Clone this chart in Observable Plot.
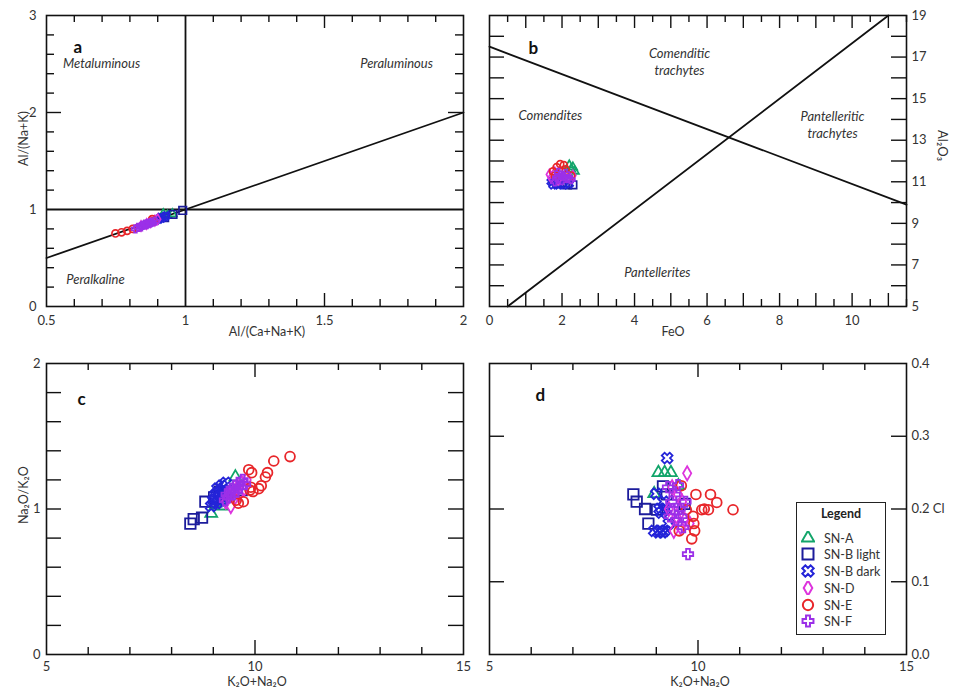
<!DOCTYPE html>
<html><head><meta charset="utf-8">
<script src="https://cdn.jsdelivr.net/npm/d3@7"></script>
<script src="https://cdn.jsdelivr.net/npm/@observablehq/plot@0.6"></script>
<style>
body{margin:0;background:#fff;font-family:Lato,"Open Sans",sans-serif;}
#wrap{position:relative;width:954px;height:693px;overflow:hidden;background:#fff;}
#legend{position:absolute;left:796px;top:502px;width:88px;height:131px;border:1.5px solid #222;background:#fff;font-family:Lato,"Open Sans",sans-serif;color:#333;}
#legend .t{position:absolute;left:0;width:88px;top:3px;text-align:center;font-weight:bold;font-size:12.5px;color:#222;}
#legend .row{position:absolute;left:4px;height:16px;display:flex;align-items:center;font-size:12.5px;}
#legend svg{margin-right:9px;}
</style></head><body><div id="wrap"></div>
<script>
// ---------- series ----------
const seriesNames = ["SN-A", "SN-B light", "SN-B dark", "SN-D", "SN-E", "SN-F"];
const seriesColors = ["#12a56a", "#1c1c9c", "#2424d8", "#dd33dd", "#e8262a", "#9b30e8"];

// ---------- panel a : Al/(Ca+Na+K) vs Al/(Na+K) ----------
const a_SNA  = [[0.92,0.955],[0.935,0.94],[0.953,0.955]];
const a_SNBl = [[0.925,0.915],[0.955,0.95],[0.99,0.99]];
const a_SNBd = [[0.895,0.89],[0.905,0.9],[0.915,0.91],[0.925,0.925],[0.93,0.935],[0.91,0.92]];
const a_SND  = [[0.84,0.83],[0.86,0.85],[0.875,0.87],[0.89,0.885],[0.9,0.9]];
const a_SNE  = [[0.748,0.753],[0.77,0.765],[0.79,0.78],[0.81,0.8],[0.83,0.815],[0.86,0.85],[0.885,0.88],[0.88,0.9]];
const a_SNF  = [[0.82,0.8],[0.83,0.815],[0.84,0.82],[0.85,0.84],[0.86,0.845],[0.87,0.86],[0.88,0.87],[0.89,0.88],[0.845,0.835],[0.865,0.855],[0.875,0.865],[0.855,0.85]];
const aBoundary = [[0.5,0.5],[2,2]];
const aRegions = [
  {label:"Metaluminous", x:0.698, y:2.505},
  {label:"Peraluminous", x:1.759, y:2.5},
  {label:"Peralkaline",  x:0.676, y:0.28}
];

// ---------- panel b : FeO vs Al2O3 ----------
const b_SNA  = [[2.2,11.8],[2.3,11.7],[2.35,11.5],[2.25,11.6],[2.15,11.4]];
const b_SNBl = [[1.85,10.9],[2.0,10.95],[2.3,10.85],[2.15,10.85]];
const b_SNBd = [[1.75,10.85],[1.9,10.85],[2.05,10.85],[2.2,10.9],[1.7,11.0]];
const b_SND  = [[1.65,11.35],[1.7,11.2],[1.8,11.45],[2.3,11.3],[1.9,11.1]];
const b_SNE  = [[1.75,11.5],[1.85,11.7],[1.95,11.85],[2.05,11.8],[2.1,11.6],[1.8,11.3],[2.0,11.5],[2.25,11.3]];
const b_SNF  = [[1.85,11.2],[1.95,11.3],[2.05,11.25],[2.15,11.15],[2.0,11.05],[1.9,11.45],[2.1,11.4],[2.25,11.1],[1.8,11.0]];
const bLine1 = [[0,17.5],[11.5,9.9]];
const bLine2 = [[0.5,5],[11.0,19]];
const bRegions = [
  {label:"Comenditic\ntrachytes", x:5.24, y:16.81},
  {label:"Comendites", x:1.68, y:14.24},
  {label:"Pantelleritic\ntrachytes", x:9.46, y:13.76},
  {label:"Pantellerites", x:4.63, y:6.69}
];

// ---------- panels c & d : K2O+Na2O vs Na2O/K2O and Cl ----------
const kna_SNA  = [8.95, 9.05, 9.2, 9.35, 9.53];
const nak_SNA  = [0.97, 1.04, 1.02, 1.08, 1.22];
const cl_SNA   = [0.221, 0.25, 0.25, 0.25, 0.232];

const kna_SNBl = [8.45, 8.53, 8.73, 8.81, 9.02, 9.16, 9.25, 9.68];
const nak_SNBl = [0.90, 0.93, 0.94, 1.05, 1.08, 1.12, 1.10, 1.13];
const cl_SNBl  = [0.22, 0.21, 0.20, 0.18, 0.199, 0.231, 0.22, 0.207];

const kna_SNBd = [8.95, 9.0, 9.05, 9.08, 9.1, 9.12, 9.15, 9.18, 9.2, 9.22, 9.26, 9.3];
const nak_SNBd = [1.02, 1.06, 1.1, 1.04, 1.14, 1.08, 1.12, 1.06, 1.16, 1.1, 1.13, 1.18];
const cl_SNBd  = [0.17, 0.221, 0.168, 0.2, 0.17, 0.195, 0.168, 0.21, 0.17, 0.2, 0.27, 0.18];

const kna_SND  = [9.3, 9.38, 9.42, 9.48, 9.52, 9.58, 9.62, 9.68, 9.74, 9.8];
const nak_SND  = [1.05, 1.1, 1.02, 1.12, 1.08, 1.15, 1.1, 1.18, 1.14, 1.2];
const cl_SND   = [0.2, 0.23, 0.17, 0.19, 0.22, 0.175, 0.21, 0.185, 0.249, 0.18];

const kna_SNE  = [9.55, 9.60, 9.72, 9.85, 9.88, 9.90, 9.92, 9.95, 10.09, 10.15, 10.25, 10.30, 10.45, 10.84];
const nak_SNE  = [1.06, 1.04, 1.05, 1.27, 1.13, 1.15, 1.25, 1.12, 1.14, 1.16, 1.22, 1.25, 1.33, 1.36];
const cl_SNE   = [0.17, 0.232, 0.199, 0.159, 0.19, 0.18, 0.17, 0.22, 0.199, 0.20, 0.199, 0.22, 0.209, 0.199];

const kna_SNF  = [9.28, 9.32, 9.36, 9.4, 9.44, 9.48, 9.52, 9.56, 9.6, 9.65, 9.7, 9.76];
const nak_SNF  = [1.06, 1.1, 1.08, 1.12, 1.14, 1.1, 1.16, 1.12, 1.18, 1.15, 1.2, 1.17];
const cl_SNF   = [0.23, 0.19, 0.21, 0.2, 0.22, 0.185, 0.233, 0.2, 0.19, 0.175, 0.21, 0.138];

// ---------- tick labels ----------
const aXLabels = [0.5, 1, 1.5, 2], aYLabels = [0, 1, 2, 3];
const bXLabels = [0, 2, 4, 6, 8, 10], bYLabels = [5, 7, 9, 11, 13, 15, 17, 19];
const cXLabels = [5, 10, 15], cYLabels = [0, 1, 2];
const dXLabels = [5, 10, 15], dYLabels = [0, 0.1, 0.2, 0.3, 0.4];

// ---------- symbols ----------
function armPoly(ctx, size, angle) {
  const r = Math.sqrt(size / Math.PI), w = r * 0.36;
  const pts = [[-w,-r],[w,-r],[w,-w],[r,-w],[r,w],[w,w],[w,r],[-w,r],[-w,w],[-r,w],[-r,-w],[-w,-w]];
  const c = Math.cos(angle), s = Math.sin(angle);
  pts.forEach(([x,y],i) => {
    const X = x*c - y*s, Y = x*s + y*c;
    i ? ctx.lineTo(X,Y) : ctx.moveTo(X,Y);
  });
  ctx.closePath();
}
const plusSymbol = {draw(ctx, size){ armPoly(ctx, size, 0); }};
const xSymbol = {draw(ctx, size){ armPoly(ctx, size, Math.PI/4); }};
const seriesSymbols = [d3.symbolTriangle, d3.symbolSquare, xSymbol, d3.symbolDiamond, d3.symbolCircle, plusSymbol];
const seriesR = [4.4, 5.9, 5.6, 4.3, 4.9, 5.2];

const FONT = "Lato, 'Open Sans', sans-serif";
const wrap = document.getElementById("wrap");

function dots(list, scale, xf, yf) {
  return list.map((rows, i) => Plot.dot(rows, {
    x: xf, y: yf, symbol: seriesSymbols[i], r: seriesR[i] * scale,
    stroke: seriesColors[i], fill: "none", strokeWidth: scale < 1 ? 1.7 : 1.8
  }));
}
function pairs(xs, ys) { return xs.map((x, i) => [x, ys[i]]); }

function inwardTicks(W, H, {xMinor = [], xMajor = [], yMinor = [], yMajor = [], xMin = 7, xMaj = 13, yMin = 8, yMaj = 15}) {
  const s = {stroke: "#111", strokeWidth: 1.4};
  return [
    Plot.ruleX(xMinor, {...s, insetTop: H - xMin}),
    Plot.ruleX(xMinor, {...s, insetBottom: H - xMin}),
    Plot.ruleX(xMajor, {...s, insetTop: H - xMaj}),
    Plot.ruleX(xMajor, {...s, insetBottom: H - xMaj}),
    Plot.ruleY(yMinor, {...s, insetRight: W - yMin}),
    Plot.ruleY(yMinor, {...s, insetLeft: W - yMin}),
    Plot.ruleY(yMajor, {...s, insetRight: W - yMaj}),
    Plot.ruleY(yMajor, {...s, insetLeft: W - yMaj})
  ];
}
function place(svg, left, top) {
  svg.style.position = "absolute";
  svg.style.left = left + "px";
  svg.style.top = top + "px";
  wrap.appendChild(svg);
}
const steps = (a, b, s) => d3.range(Math.round((b - a) / s) + 1).map(i => +(a + i * s).toFixed(3));
const FW = 417, FH = 291;
const txt = {fill: "#333", fontFamily: FONT};
const baseStyle = {fontFamily: FONT, fontSize: "13px", color: "#333", background: "transparent", overflow: "visible"};
const letter = {fontWeight: "bold", fontSize: 17, fill: "#111", fontFamily: FONT};

// ---------- Panel a ----------
place(Plot.plot({
  width: 477, height: 345, marginLeft: 46, marginRight: 14, marginTop: 15, marginBottom: 39,
  style: baseStyle,
  x: {domain: [0.5, 2]}, y: {domain: [0, 3]},
  marks: [
    ...inwardTicks(FW, FH, {
      xMinor: steps(0.6, 1.9, 0.1).filter(v => Math.abs(v - 1) > 1e-6 && Math.abs(v - 1.5) > 1e-6),
      xMajor: [1.5], yMinor: steps(0.2, 2.8, 0.2).filter(v => Math.abs(v - 1) > 1e-6 && Math.abs(v - 2) > 1e-6),
      yMajor: [2], xMin: 7, xMaj: 13, yMin: 8, yMaj: 15}),
    Plot.ruleX([1], {stroke: "#111", strokeWidth: 1.8}),
    Plot.ruleY([1], {stroke: "#111", strokeWidth: 1.8}),
    Plot.line(aBoundary, {x: d => d[0], y: d => d[1], stroke: "#111", strokeWidth: 1.8}),
    ...dots([a_SNA, a_SNBl, a_SNBd, a_SND, a_SNE, a_SNF], 0.72, d => d[0], d => d[1]),
    Plot.text(aRegions, {x: "x", y: "y", text: "label", fontStyle: "italic", fontSize: 13, ...txt}),
    Plot.text(["a"], {text: d => d, frameAnchor: "top-left", dx: 27, dy: 25, ...letter}),
    Plot.frame({stroke: "#111", strokeWidth: 1.6}),
    Plot.axisX(aXLabels, {anchor: "bottom", tickSize: 0, tickPadding: 9, label: null, tickFormat: d => String(d), ...txt}),
    Plot.axisY(aYLabels, {anchor: "left", tickSize: 0, tickPadding: 10, label: null, tickFormat: d => String(d), ...txt}),
    Plot.text(["Al/(Ca+Na+K)"], {text: d => d, frameAnchor: "bottom", dx: 12, dy: 29, fontSize: 12.5, ...txt}),
    Plot.text(["Al/(Na+K)"], {text: d => d, frameAnchor: "left", dx: -23, dy: 5, rotate: -90, fontSize: 12.5, ...txt})
  ]
}), 0, 0);

// ---------- Panel b ----------
place(Plot.plot({
  width: 477, height: 345, marginLeft: 12, marginRight: 48, marginTop: 15, marginBottom: 39,
  style: baseStyle,
  x: {domain: [0, 11.5]}, y: {domain: [5, 19]},
  marks: [
    ...inwardTicks(FW, FH, {
      xMinor: steps(0.5, 11, 1), xMajor: steps(1, 11, 1),
      yMinor: [], yMajor: steps(6, 18, 1), xMin: 7, xMaj: 13, yMaj: 15}),
    Plot.line(bLine1, {x: d => d[0], y: d => d[1], stroke: "#111", strokeWidth: 1.8}),
    Plot.line(bLine2, {x: d => d[0], y: d => d[1], stroke: "#111", strokeWidth: 1.8}),
    ...dots([b_SNA, b_SNBl, b_SNBd, b_SND, b_SNE, b_SNF], 0.72, d => d[0], d => d[1]),
    Plot.text(bRegions, {x: "x", y: "y", text: "label", fontStyle: "italic", fontSize: 13, lineHeight: 1.3, ...txt}),
    Plot.text(["b"], {text: d => d, frameAnchor: "top-left", dx: 39, dy: 26, ...letter}),
    Plot.frame({stroke: "#111", strokeWidth: 1.6}),
    Plot.axisX(bXLabels, {anchor: "bottom", tickSize: 0, tickPadding: 9, label: null, tickFormat: d => String(d), ...txt}),
    Plot.axisY(bYLabels, {anchor: "right", tickSize: 0, tickPadding: 5, label: null, tickFormat: d => String(d), ...txt}),
    Plot.text(["FeO"], {text: d => d, frameAnchor: "bottom", dx: -25, dy: 29, fontSize: 12.5, ...txt}),
    Plot.text(["Al₂O₃"], {text: d => d, frameAnchor: "right", dx: 36, dy: 0, rotate: 90, fontSize: 13, ...txt})
  ]
}), 477, 0);

// ---------- Panel c ----------
const dotsCD = (yArrs) => dots([
  pairs(kna_SNA, yArrs[0]), pairs(kna_SNBl, yArrs[1]), pairs(kna_SNBd, yArrs[2]),
  pairs(kna_SND, yArrs[3]), pairs(kna_SNE, yArrs[4]), pairs(kna_SNF, yArrs[5])
], 1, d => d[0], d => d[1]);

place(Plot.plot({
  width: 477, height: 348, marginLeft: 46, marginRight: 14, marginTop: 18, marginBottom: 39,
  style: baseStyle,
  x: {domain: [5, 15]}, y: {domain: [0, 2]},
  marks: [
    ...inwardTicks(FW, FH, {
      xMinor: [6, 7, 8, 9, 11, 12, 13, 14], xMajor: [10],
      yMinor: [], yMajor: steps(0.2, 1.8, 0.2), xMin: 7, xMaj: 14, yMaj: 15}),
    ...dotsCD([nak_SNA, nak_SNBl, nak_SNBd, nak_SND, nak_SNE, nak_SNF]),
    Plot.text(["c"], {text: d => d, frameAnchor: "top-left", dx: 31, dy: 29, ...letter}),
    Plot.frame({stroke: "#111", strokeWidth: 1.6}),
    Plot.axisX(cXLabels, {anchor: "bottom", tickSize: 0, tickPadding: 7, label: null, tickFormat: d => String(d), ...txt}),
    Plot.axisY(cYLabels, {anchor: "left", tickSize: 0, tickPadding: 6, label: null, tickFormat: d => String(d), ...txt}),
    Plot.text(["K₂O+Na₂O"], {text: d => d, frameAnchor: "bottom", dx: 2, dy: 31, fontSize: 12.5, ...txt}),
    Plot.text(["Na₂O/K₂O"], {text: d => d, frameAnchor: "left", dx: -23, dy: 15, rotate: -90, fontSize: 12.5, ...txt})
  ]
}), 0, 345);

// ---------- Panel d ----------
place(Plot.plot({
  width: 477, height: 348, marginLeft: 12, marginRight: 48, marginTop: 18, marginBottom: 39,
  style: baseStyle,
  x: {domain: [5, 15]}, y: {domain: [0, 0.4]},
  marks: [
    ...inwardTicks(FW, FH, {
      xMinor: [6, 7, 8, 9, 11, 12, 13, 14], xMajor: [10],
      yMinor: [], yMajor: [0.1, 0.2, 0.3], xMin: 7, xMaj: 14, yMaj: 15}),
    ...dotsCD([cl_SNA, cl_SNBl, cl_SNBd, cl_SND, cl_SNE, cl_SNF]),
    Plot.text(["d"], {text: d => d, frameAnchor: "top-left", dx: 46, dy: 25, ...letter}),
    Plot.frame({stroke: "#111", strokeWidth: 1.6}),
    Plot.axisX(dXLabels, {anchor: "bottom", tickSize: 0, tickPadding: 7, label: null, tickFormat: d => String(d), ...txt}),
    Plot.axisY(dYLabels, {anchor: "right", tickSize: 0, tickPadding: 5, label: null, tickFormat: d => d.toFixed(1), ...txt}),
    Plot.text(["K₂O+Na₂O"], {text: d => d, frameAnchor: "bottom", dx: 2, dy: 31, fontSize: 12.5, ...txt}),
    Plot.text(["Cl"], {text: d => d, frameAnchor: "right", dx: 38, dy: 0, fontSize: 13, ...txt})
  ]
}), 477, 345);

// ---------- Legend ----------
const legend = document.createElement("div");
legend.id = "legend";
legend.innerHTML = '<div class="t">Legend</div>';
const rowTops = [27, 43, 60, 77, 94, 110];
seriesNames.forEach((name, i) => {
  const row = document.createElement("div");
  row.className = "row";
  row.style.top = rowTops[i] + "px";
  const svg = d3.create("svg").attr("width", 14).attr("height", 14);
  svg.append("path")
    .attr("transform", "translate(7,7)")
    .attr("d", d3.symbol(seriesSymbols[i], Math.PI * Math.pow(seriesR[i] * 1.05, 2))())
    .attr("fill", "none").attr("stroke", seriesColors[i]).attr("stroke-width", 2);
  row.appendChild(svg.node());
  const span = document.createElement("span");
  span.textContent = name;
  row.appendChild(span);
  legend.appendChild(row);
});
wrap.appendChild(legend);
</script>
</body></html>
